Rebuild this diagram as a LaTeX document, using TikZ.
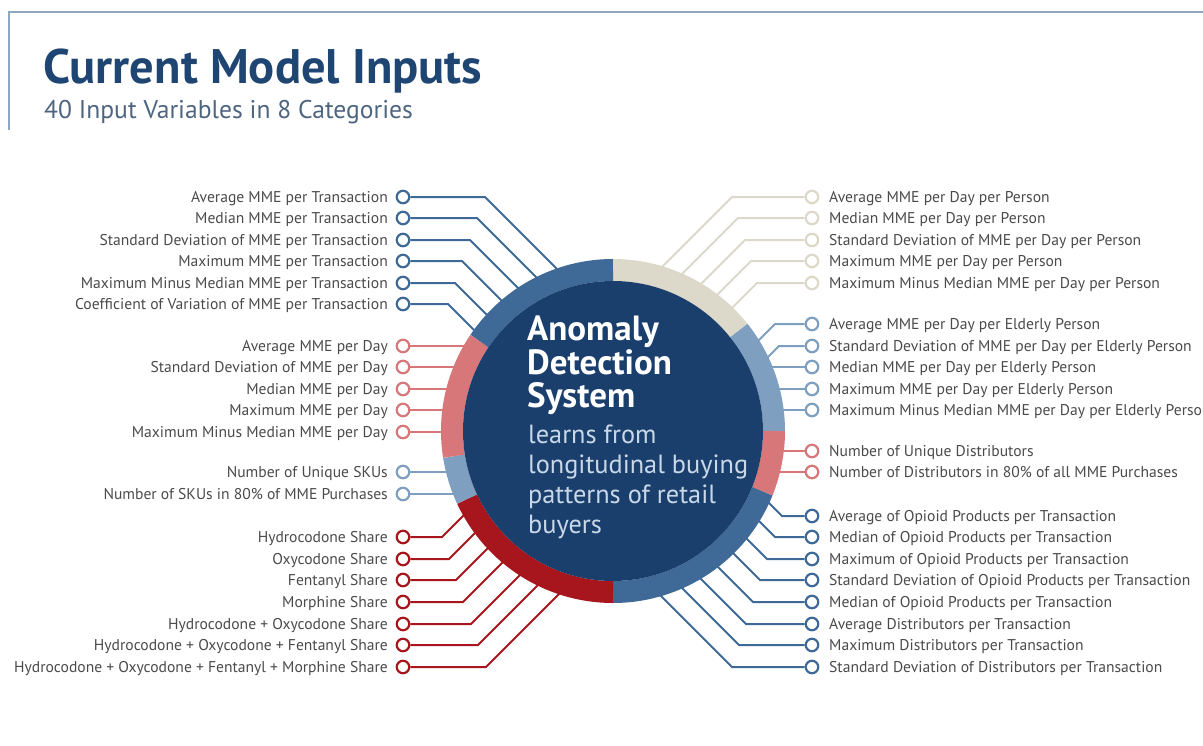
\documentclass[tikz,border=0pt]{standalone}
\usepackage{fontspec}
\setmainfont{PT Sans}
\definecolor{navy}{HTML}{1B3F6D}
\definecolor{ringblue}{HTML}{3F6A97}
\definecolor{sand}{HTML}{DCD9CA}
\definecolor{steel}{HTML}{7E9FBF}
\definecolor{rose}{HTML}{D8777A}
\definecolor{crimson}{HTML}{A7161C}
\definecolor{titleblue}{HTML}{1F4573}
\definecolor{subgrey}{HTML}{4E6580}
\definecolor{labelgrey}{HTML}{4A4A4A}
\definecolor{framec}{HTML}{8EA7BF}
\definecolor{corelight}{HTML}{C9D8E8}

% pin + label on the left / right of the hub
\newcommand\leftpin[4]{%
  \node[pin,draw=#3] (p#1) at (403,#2) {};
  \node[lbl,anchor=base east] (t#1) at (388,#2+5) {#4};}
\newcommand\rightpin[4]{%
  \node[pin,draw=#3] (p#1) at (812,#2) {};
  \node[lbl,anchor=base west] (t#1) at (829,#2+5) {#4};}

% wire: horizontal to a break point, then 45 degrees until the ring
% #1 pin anchor, #2 id, #3 y, #4 colour, #5 break x, #6 dx, #7 dy
\newcommand\bent[7]{%
  \pgfmathsetmacro\uu{(#5-613)/100}%
  \pgfmathsetmacro\vv{(#3-431)/100}%
  \pgfmathsetmacro\bq{\uu*(#6)+\vv*(#7)}%
  \pgfmathsetmacro\cq{\uu*\uu+\vv*\vv-1.61*1.61}%
  \pgfmathsetmacro\tlen{100*(-\bq-sqrt(\bq*\bq-2*\cq))/2}%
  \coordinate (e#2) at ({#5+\tlen*(#6)},{#3+\tlen*(#7)});
  \draw[wire,#4] (p#2.#1) -- (#5,#3) -- (e#2);}
% wire: straight horizontal into the ring; #5 side sign
\newcommand\straight[5]{%
  \pgfmathsetmacro\vv{(#3-431)/100}%
  \pgfmathsetmacro\hx{613+(#5)*100*sqrt(1.61*1.61-\vv*\vv)}%
  \coordinate (e#2) at (\hx,#3);
  \draw[wire,#4] (p#2.#1) -- (e#2);}

\begin{document}
\begin{tikzpicture}[x=1pt,y=-1pt,
  pin/.style={circle,draw,line width=2.2pt,fill=white,minimum size=12.5pt,inner sep=0pt},
  wire/.style={line width=2pt},
  lbl/.style={text=labelgrey,font=\fontsize{15.6}{18}\selectfont,inner sep=0pt},
  ringseg/.style={line width=22pt},
  boldline/.style={text=white,font=\bfseries\fontsize{35}{36}\selectfont,inner sep=0pt,anchor=base west},
  lightline/.style={text=corelight,font=\fontsize{26.3}{30}\selectfont,inner sep=0pt,anchor=base west}]
\path[use as bounding box] (0,0) rectangle (1203,745);
\clip (0,0) rectangle (1203,745);

% frame corner and heading
\coordinate (fa) at (9,130);
\coordinate (fb) at (9,12);
\coordinate (fc) at (1203,12);
\draw[framec,line width=2.5pt] (fa) -- (fb) -- (fc);
\node[anchor=base west,inner sep=0pt,text=titleblue,font=\bfseries\fontsize{48.5}{56}\selectfont] (title) at (43,83) {Current Model Inputs};
\node[anchor=base west,inner sep=0pt,text=subgrey,font=\fontsize{25.6}{30}\selectfont] (subtitle) at (44,118) {40 Input Variables in 8 Categories};

% left inputs
\leftpin{L1}{197}{ringblue}{Average MME per Transaction}
\leftpin{L2}{218}{ringblue}{Median MME per Transaction}
\leftpin{L3}{240}{ringblue}{Standard Deviation of MME per Transaction}
\leftpin{L4}{261}{ringblue}{Maximum MME per Transaction}
\leftpin{L5}{283}{ringblue}{Maximum Minus Median MME per Transaction}
\leftpin{L6}{304}{ringblue}{Coefficient of Variation of MME per Transaction}
\leftpin{L7}{346}{rose}{Average MME per Day}
\leftpin{L8}{367}{rose}{Standard Deviation of MME per Day}
\leftpin{L9}{389}{rose}{Median MME per Day}
\leftpin{L10}{410}{rose}{Maximum MME per Day}
\leftpin{L11}{432}{rose}{Maximum Minus Median MME per Day}
\leftpin{L12}{472}{steel}{Number of Unique SKUs}
\leftpin{L13}{494}{steel}{Number of SKUs in 80\% of MME Purchases}
\leftpin{L14}{537}{crimson}{Hydrocodone Share}
\leftpin{L15}{559}{crimson}{Oxycodone Share}
\leftpin{L16}{580}{crimson}{Fentanyl Share}
\leftpin{L17}{602}{crimson}{Morphine Share}
\leftpin{L18}{624}{crimson}{Hydrocodone + Oxycodone Share}
\leftpin{L19}{645}{crimson}{Hydrocodone + Oxycodone + Fentanyl Share}
\leftpin{L20}{667}{crimson}{Hydrocodone + Oxycodone + Fentanyl + Morphine Share}

% right inputs
\rightpin{R1}{197}{sand}{Average MME per Day per Person}
\rightpin{R2}{218}{sand}{Median MME per Day per Person}
\rightpin{R3}{240}{sand}{Standard Deviation of MME per Day per Person}
\rightpin{R4}{261}{sand}{Maximum MME per Day per Person}
\rightpin{R5}{283}{sand}{Maximum Minus Median MME per Day per Person}
\rightpin{R6}{324}{steel}{Average MME per Day per Elderly Person}
\rightpin{R7}{346}{steel}{Standard Deviation of MME per Day per Elderly Person}
\rightpin{R8}{367}{steel}{Median MME per Day per Elderly Person}
\rightpin{R9}{389}{steel}{Maximum MME per Day per Elderly Person}
\rightpin{R10}{410}{steel}{Maximum Minus Median MME per Day per Elderly Person}
\rightpin{R11}{451}{rose}{Number of Unique Distributors}
\rightpin{R12}{472}{rose}{Number of Distributors in 80\% of all MME Purchases}
\rightpin{R13}{516}{ringblue}{Average of Opioid Products per Transaction}
\rightpin{R14}{537}{ringblue}{Median of Opioid Products per Transaction}
\rightpin{R15}{559}{ringblue}{Maximum of Opioid Products per Transaction}
\rightpin{R16}{580}{ringblue}{Standard Deviation of Opioid Products per Transaction}
\rightpin{R17}{602}{ringblue}{Median of Opioid Products per Transaction}
\rightpin{R18}{624}{ringblue}{Average Distributors per Transaction}
\rightpin{R19}{645}{ringblue}{Maximum Distributors per Transaction}
\rightpin{R20}{667}{ringblue}{Standard Deviation of Distributors per Transaction}

% wires into the ring
\bent{east}{L1}{197}{ringblue}{485}{1}{1}
\bent{east}{L2}{218}{ringblue}{477}{1}{1}
\bent{east}{L3}{240}{ringblue}{470}{1}{1}
\bent{east}{L4}{261}{ringblue}{462}{1}{1}
\bent{east}{L5}{283}{ringblue}{455}{1}{1}
\bent{east}{L6}{304}{ringblue}{448}{1}{1}
\straight{east}{L7}{346}{rose}{-1}
\straight{east}{L8}{367}{rose}{-1}
\straight{east}{L9}{389}{rose}{-1}
\straight{east}{L10}{410}{rose}{-1}
\straight{east}{L11}{432}{rose}{-1}
\straight{east}{L12}{472}{steel}{-1}
\straight{east}{L13}{494}{steel}{-1}
\bent{east}{L14}{537}{crimson}{442}{1}{-1}
\bent{east}{L15}{559}{crimson}{449}{1}{-1}
\bent{east}{L16}{580}{crimson}{456}{1}{-1}
\bent{east}{L17}{602}{crimson}{463}{1}{-1}
\bent{east}{L18}{624}{crimson}{471}{1}{-1}
\bent{east}{L19}{645}{crimson}{478}{1}{-1}
\bent{east}{L20}{667}{crimson}{486}{1}{-1}

\bent{west}{R1}{197}{sand}{732}{-1}{1}
\bent{west}{R2}{218}{sand}{738}{-1}{1}
\bent{west}{R3}{240}{sand}{745}{-1}{1}
\bent{west}{R4}{261}{sand}{751}{-1}{1}
\bent{west}{R5}{283}{sand}{757}{-1}{1}
\bent{west}{R6}{324}{steel}{775}{-1}{1}
\bent{west}{R7}{346}{steel}{779}{-1}{1}
\straight{west}{R8}{367}{steel}{1}
\straight{west}{R9}{389}{steel}{1}
\straight{west}{R10}{410}{steel}{1}
\straight{west}{R11}{451}{rose}{1}
\straight{west}{R12}{472}{rose}{1}
\bent{west}{R13}{516}{ringblue}{782}{-1}{-1}
\bent{west}{R14}{537}{ringblue}{775}{-1}{-1}
\bent{west}{R15}{559}{ringblue}{767}{-1}{-1}
\bent{west}{R16}{580}{ringblue}{760}{-1}{-1}
\bent{west}{R17}{602}{ringblue}{753}{-1}{-1}
\bent{west}{R18}{624}{ringblue}{746}{-1}{-1}
\bent{west}{R19}{645}{ringblue}{739}{-1}{-1}
\bent{west}{R20}{667}{ringblue}{732}{-1}{-1}

% segmented ring, one arc per category
\begin{scope}[shift={(613,431)}]
  \draw[ringseg,sand]     (38.6:161pt)  arc[start angle=38.6, end angle=90,   radius=161pt];
  \draw[ringseg,steel]    (0:161pt)     arc[start angle=0,    end angle=38.6, radius=161pt];
  \draw[ringseg,rose]     (-22:161pt)   arc[start angle=-22,  end angle=0,    radius=161pt];
  \draw[ringseg,ringblue] (-90:161pt)   arc[start angle=-90,  end angle=-22,  radius=161pt];
  \draw[ringseg,crimson]  (-155:161pt)  arc[start angle=-155, end angle=-90,  radius=161pt];
  \draw[ringseg,steel]    (189:161pt)   arc[start angle=189,  end angle=205,  radius=161pt];
  \draw[ringseg,rose]     (146:161pt)   arc[start angle=146,  end angle=189,  radius=161pt];
  \draw[ringseg,ringblue] (90:161pt)    arc[start angle=90,   end angle=146,  radius=161pt];
\end{scope}

% hub
\node[circle,fill=navy,minimum size=300pt,inner sep=0pt] (core) at (613,431) {};
\node[boldline] (h1) at (527,340) {Anomaly};
\node[boldline] (h2) at (527,374) {Detection};
\node[boldline] (h3) at (527,407) {System};
\node[lightline] (s1) at (528,443) {learns from};
\node[lightline] (s2) at (528,473) {longitudinal buying};
\node[lightline] (s3) at (528,503) {patterns of retail};
\node[lightline] (s4) at (528,533) {buyers};
\end{tikzpicture}
\end{document}
